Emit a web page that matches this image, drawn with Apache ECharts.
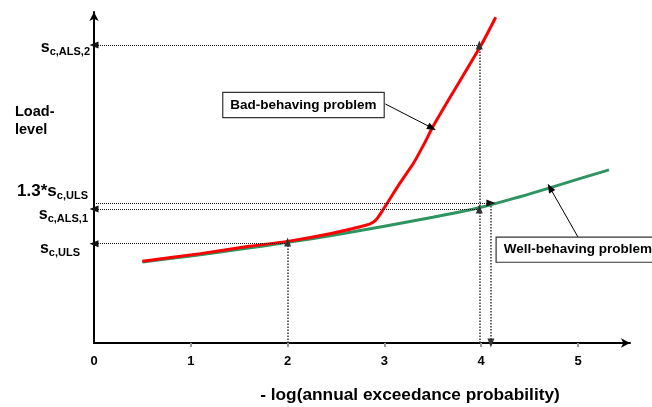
<!DOCTYPE html>
<html>
<head>
<meta charset="utf-8">
<script src="https://cdn.jsdelivr.net/npm/echarts@6/dist/echarts.min.js"></script>
<style>html,body{margin:0;padding:0;background:#fff}#c{width:652px;height:407px}</style>
</head>
<body>
<div id="c"></div>
<script>
// ---- data ----
const xTickValues = [0, 1, 2, 3, 4, 5];
const wellX = [0.5, 1.0, 1.5, 2.0, 2.5, 3.0, 3.5, 4.0, 4.4, 4.7, 5.0, 5.32];
const wellY = [2.45, 2.63, 2.83, 3.04, 3.27, 3.53, 3.80, 4.10, 4.42, 4.68, 4.95, 5.23];
const badX = [0.5, 1.1, 1.6, 2.0, 2.45, 2.8, 2.88, 2.93, 3.03, 3.16, 3.3, 3.42, 3.5, 3.68, 4.0, 4.15];
const badY = [2.47, 2.70, 2.92, 3.07, 3.31, 3.55, 3.64, 3.78, 4.23, 4.83, 5.43, 6.07, 6.53, 7.43, 9.0, 9.84];
const levelNames = ['sALS2', 'u13', 'sALS1', 'sULS'];
const levelValues = [9.0, 4.23, 4.05, 3.0];
const levelX = [3.98, 4.1, 3.98, 2.0];  // x where each level is reached
const wellAtULS = 3.05;                 // curve height at x = 2

const L = {};
levelNames.forEach((n, i) => L[n] = levelValues[i]);

const FONT = 'Liberation Sans, Arial, sans-serif';
const chart = echarts.init(document.getElementById('c'), null, {renderer: 'canvas'});

const rich = {
  s: {fontSize: 16, fontWeight: 'bold', fontFamily: FONT, color: '#000', verticalAlign: 'top', lineHeight: 18},
  n: {fontSize: 17, fontWeight: 'bold', fontFamily: FONT, color: '#000', verticalAlign: 'top', lineHeight: 18},
  sub: {fontSize: 11, fontWeight: 'bold', fontFamily: FONT, color: '#000', verticalAlign: 'bottom', lineHeight: 10}
};
const dotted = {type: 'dotted', color: '#111', width: 1};
const dottedV = {type: 'dotted', color: '#333', width: 1.5};

function hLine(y, x2, startSym, endSym, text, dist, off) {
  return [
    {coord: [0, y], symbol: startSym, lineStyle: dotted,
     label: {show: true, position: 'start', distance: dist, offset: off, formatter: text, rich: rich}},
    {coord: [x2, y], symbol: endSym}
  ];
}
function vLine(x, y1, y2, startSym, endSym) {
  return [
    {coord: [x, y1], symbol: startSym, lineStyle: dottedV, label: {show: false}},
    {coord: [x, y2], symbol: endSym}
  ];
}

const option = {
  animation: false,
  backgroundColor: '#fff',
  title: {
    text: 'Load-\nlevel', left: 15, top: 103, padding: 0,
    textStyle: {fontSize: 14.5, fontWeight: 'bold', fontFamily: FONT, color: '#000', lineHeight: 18}
  },
  grid: {left: 94, right: 22, top: 12, bottom: 64, containLabel: false, outerBoundsMode: 'none'},
  xAxis: {
    type: 'value', min: 0, max: 5.537, interval: 1,
    name: '- log(annual exceedance probability)',
    nameLocation: 'middle', nameGap: 44,
    nameTextStyle: {fontSize: 17.3, fontWeight: 'bold', fontFamily: FONT, color: '#000', padding: [0, 0, 0, 96]},
    axisLine: {show: true, symbol: ['none', 'arrow'], symbolSize: [7, 9], lineStyle: {color: '#000', width: 2}},
    axisTick: {show: true, length: 4, inside: false, customValues: xTickValues.slice(1), lineStyle: {color: '#999', width: 2}},
    axisLabel: {show: true, margin: 12, customValues: xTickValues, fontSize: 13, fontWeight: 'bold', fontFamily: FONT, color: '#000'},
    splitLine: {show: false}
  },
  yAxis: {
    type: 'value', min: 0, max: 10,
    axisLine: {show: true, symbol: ['none', 'arrow'], symbolSize: [7, 9], lineStyle: {color: '#000', width: 2}},
    axisTick: {show: false}, axisLabel: {show: false}, splitLine: {show: false}
  },
  series: [
    {
      name: 'Well-behaving problem', type: 'line', smooth: 0.3,
      showSymbol: false, data: wellX.map((x, i) => [x, wellY[i]]),
      lineStyle: {color: '#2e9460', width: 3}, z: 3,
      markLine: {
        silent: true, animation: false, symbolSize: [7, 9],
        data: [
          hLine(L.sALS2, levelX[0], 'triangle', 'none', '{s|s}{sub|c,ALS,2}', 4, [0, 3]),
          hLine(L.u13, levelX[1], 'none', 'triangle', '{n|1.3*s}{sub|c,ULS}', 6, [0, -11]),
          hLine(L.sALS1, levelX[2], 'triangle', 'none', '{s|s}{sub|c,ALS,1}', 6, [0, 7]),
          hLine(L.sULS, levelX[3], 'triangle', 'none', '{s|s}{sub|c,ULS}', 14, [0, 6]),
          vLine(levelX[0], 0, L.sALS1, 'none', 'triangle'),
          vLine(levelX[0], L.sALS1, L.sALS2, 'none', 'triangle'),
          vLine(levelX[1], L.u13, 0, 'none', 'triangle'),
          vLine(levelX[3], 0, wellAtULS, 'none', 'triangle'),
          [
            {coord: [3.01, 7.22], symbol: 'none', lineStyle: {type: 'solid', color: '#000', width: 1}, label: {show: false}},
            {coord: [3.49, 6.50], symbol: 'triangle'}
          ],
          [
            {coord: [5.0, 3.2], symbol: 'none', lineStyle: {type: 'solid', color: '#000', width: 1}, label: {show: false}},
            {coord: [4.71, 4.69], symbol: 'triangle'}
          ]
        ]
      },
      markPoint: {
        silent: true, animation: false, symbol: 'rect', symbolSize: 0,
        data: [
          {coord: [2.164, 7.19], label: {show: true, position: 'inside', formatter: 'Bad-behaving problem',
            backgroundColor: '#fff', borderColor: '#333', borderWidth: 1.2, padding: [5, 7, 5, 7],
            fontSize: 13.5, fontWeight: 'bold', fontFamily: FONT, color: '#000'}},
          {coord: [4.16, 2.82], label: {show: true, position: 'right', distance: 0, formatter: 'Well-behaving problem',
            backgroundColor: '#fff', borderColor: '#333', borderWidth: 1.2, padding: [5, 7, 5, 7],
            fontSize: 13.5, fontWeight: 'bold', fontFamily: FONT, color: '#000'}}
        ]
      }
    },
    {
      name: 'Bad-behaving problem', type: 'line', smooth: 0.2,
      showSymbol: false, data: badX.map((x, i) => [x, badY[i]]),
      lineStyle: {color: '#ff0000', width: 3}, z: 4
    }
  ]
};
chart.setOption(option);
</script>
</body>
</html>
